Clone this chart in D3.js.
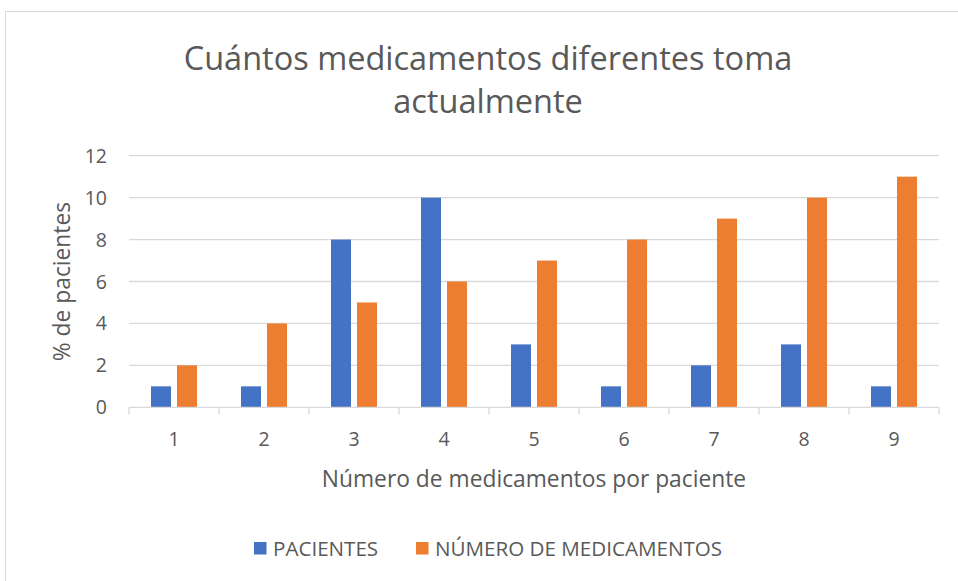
<!DOCTYPE html>
<html><head><meta charset="utf-8">
<script src="https://cdn.jsdelivr.net/npm/d3@7"></script>
<style>body{margin:0;background:#fff}svg{display:block}text{font-family:"Open Sans",sans-serif;fill:#595959}</style>
</head><body>
<svg id="c" width="958" height="581"></svg>
<script>
const categories = ["1","2","3","4","5","6","7","8","9"];
const pacientes = [1,1,8,10,3,1,2,3,1];
const medicamentos = [2,4,5,6,7,8,9,10,11];
const seriesNames = ["PACIENTES","NÚMERO DE MEDICAMENTOS"];
const colors = ["#4472C4","#ED7D31"];
const yTicks = [0,2,4,6,8,10,12];

const svg = d3.select("#c");
svg.append("rect").attr("x",5.5).attr("y",11.5).attr("width",960).attr("height",580)
  .attr("fill","#fff").attr("stroke","#D9D9D9");

const L=129, R=939, T=155.7, B=407.3;
const x = d3.scaleBand().domain(categories).range([L,R]);
const y = d3.scaleLinear().domain([0,12]).range([B,T]);

// gridlines
svg.append("g").selectAll("line").data(yTicks.filter(d=>d>0)).join("line")
  .attr("x1",L).attr("x2",R).attr("y1",d=>y(d)).attr("y2",d=>y(d))
  .attr("stroke","#D9D9D9").attr("stroke-width",1.3);

// y labels
svg.append("g").selectAll("text").data(yTicks).join("text")
  .attr("x",107).attr("y",d=>y(d)).attr("dy","0.36em").attr("text-anchor","end")
  .attr("font-size",19.5).text(d=>d);

// bars
const bw=20, gap=6;
const data = [pacientes, medicamentos];
data.forEach((vals,si)=>{
  svg.append("g").selectAll("rect").data(categories).join("rect")
    .attr("x",(c)=>x(c)+x.bandwidth()/2 - (bw+gap/2) + si*(bw+gap))
    .attr("y",(c,i)=>y(vals[i])).attr("width",bw)
    .attr("height",(c,i)=>B-y(vals[i])).attr("fill",colors[si]);
});

// x axis
const xa = svg.append("g");
xa.append("line").attr("x1",L).attr("x2",R).attr("y1",B).attr("y2",B).attr("stroke","#D9D9D9").attr("stroke-width",1.3);
const bounds = categories.map(c=>x(c)).concat([R]);
xa.selectAll("line.t").data(bounds).join("line").attr("class","t")
  .attr("x1",d=>d).attr("x2",d=>d).attr("y1",B).attr("y2",B+7).attr("stroke","#D9D9D9").attr("stroke-width",1.3);
xa.selectAll("text").data(categories).join("text")
  .attr("x",c=>x(c)+x.bandwidth()/2).attr("y",439).attr("dy","0.36em").attr("text-anchor","middle")
  .attr("font-size",19.5).text(c=>c);

// axis titles
svg.append("text").attr("x",(L+R)/2).attr("y",479).attr("dy","0.36em").attr("text-anchor","middle")
  .attr("font-size",22.8).text("Número de medicamentos por paciente");
svg.append("text").attr("transform",`translate(62,${(T+B)/2}) rotate(-90)`).attr("dy","0.36em")
  .attr("text-anchor","middle").attr("font-size",22.8).text("% de pacientes");

// title
svg.append("text").attr("x",488).attr("y",58).attr("dy","0.36em").attr("text-anchor","middle")
  .attr("font-size",32.5).text("Cuántos medicamentos diferentes toma");
svg.append("text").attr("x",488).attr("y",101).attr("dy","0.36em").attr("text-anchor","middle")
  .attr("font-size",32.5).text("actualmente");

// legend
const lg = [{x:254,tx:273},{x:416,tx:435}];
seriesNames.forEach((n,i)=>{
  svg.append("rect").attr("x",lg[i].x).attr("y",542).attr("width",12.5).attr("height",12.5).attr("fill",colors[i]);
  svg.append("text").attr("x",lg[i].tx).attr("y",548.5).attr("dy","0.36em").attr("font-size",20.6).text(n);
});
</script>
</body></html>
